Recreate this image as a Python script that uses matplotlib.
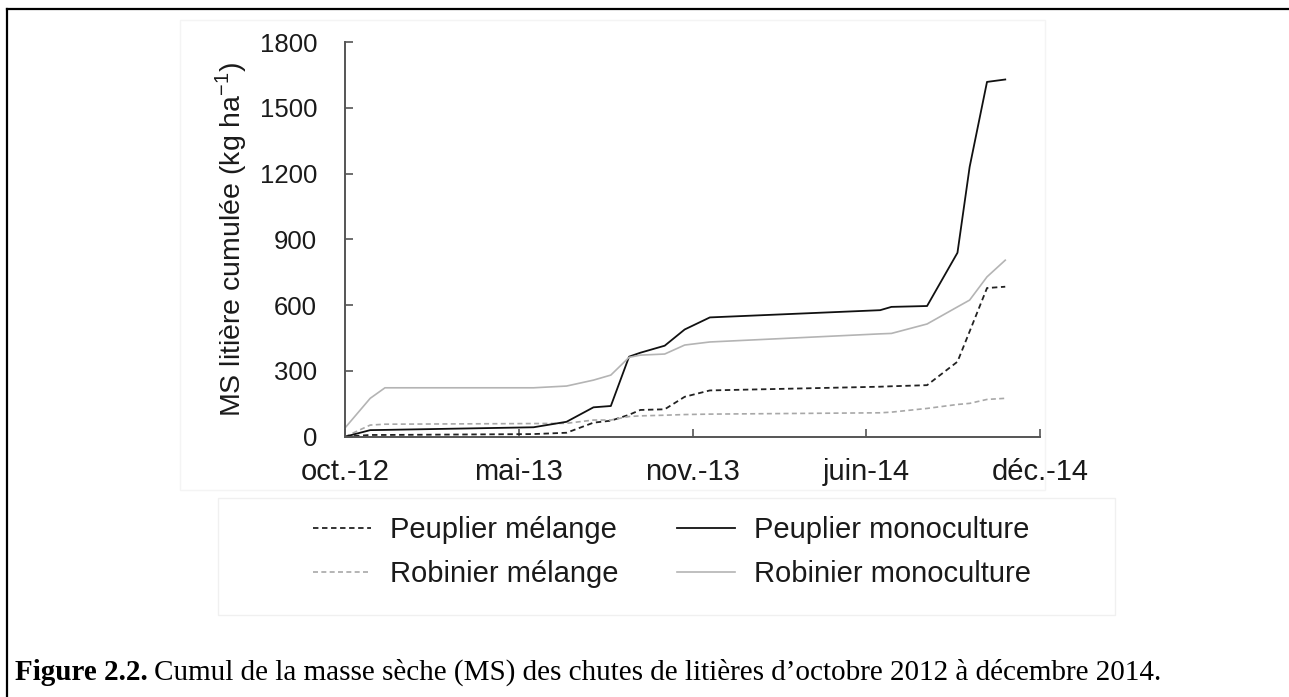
import matplotlib
matplotlib.use("Agg")
import matplotlib.pyplot as plt
from matplotlib.patches import Rectangle
from matplotlib.lines import Line2D

# --- data (days since mid-Oct 2012, cumulative litter dry mass, kg/ha) ---
days = [0, 29, 46, 217, 255, 286, 306, 327, 340, 368, 391, 420,
        616, 629, 670, 705, 719, 739, 760]
peuplier_melange = [0, 8, 8, 12, 18, 64, 73, 100, 122, 125, 182, 211,
                    228, 230, 235, 342, 480, 678, 684]
peuplier_mono = [0, 30, 31, 43, 68, 134, 140, 365, 383, 415, 489, 544,
                 577, 592, 596, 839, 1230, 1618, 1629]
robinier_melange = [0, 53, 57, 60, 61, 76, 76, 92, 95, 98, 101, 103,
                    109, 112, 129, 147, 152, 170, 175]
robinier_mono = [40, 175, 223, 223, 231, 258, 281, 362, 372, 377, 418, 432,
                 469, 471, 514, 592, 623, 729, 805]

tick_days = [0, 200, 400, 600, 800]
tick_labels = ['oct.-12', 'mai-13', 'nov.-13', 'juin-14', 'déc.-14']

plt.rcParams['font.family'] = ['Liberation Sans', 'DejaVu Sans']
plt.rcParams['mathtext.fontset'] = 'custom'
plt.rcParams['mathtext.rm'] = 'Liberation Sans'

W, H = 1289, 697
fig = plt.figure(figsize=(W / 100, H / 100), dpi=100)

# faint chart-area and legend boxes (Excel export)
fig.patches.append(Rectangle((180 / W, 1 - 490 / H), 865 / W, 470 / H,
                             transform=fig.transFigure, fill=False,
                             ec='#f4f4f4', lw=1))
fig.patches.append(Rectangle((218 / W, 1 - 615 / H), 897 / W, 117 / H,
                             transform=fig.transFigure, fill=False,
                             ec='#f0f0f0', lw=1))

ax = fig.add_axes([345 / W, 1 - 436.7 / H, 695 / W, 394.7 / H])

ax.plot(days, peuplier_melange, color='#222222', lw=1.3, ls=(0, (3, 2)),
        label='Peuplier mélange')
ax.plot(days, robinier_melange, color='#a8a8a8', lw=1.2, ls=(0, (3, 2)),
        label='Robinier mélange')
ax.plot(days, peuplier_mono, color='#111111', lw=1.3,
        label='Peuplier monoculture')
ax.plot(days, robinier_mono, color='#b4b4b4', lw=1.2,
        label='Robinier monoculture')

ax.set_xlim(0, 800)
ax.set_ylim(0, 1800)
ax.set_xticks(tick_days)
ax.set_xticklabels(tick_labels)
ax.set_yticks(range(0, 1801, 300))

for s in ['top', 'right']:
    ax.spines[s].set_visible(False)
for s in ['left', 'bottom']:
    ax.spines[s].set_color('#555555')
    ax.spines[s].set_linewidth(1.4)

ax.tick_params(axis='y', direction='in', length=6, width=1.2, color='#555555',
               labelsize=18.5, labelcolor='#1a1a1a', pad=20)
ax.tick_params(axis='x', direction='in', length=6, width=1.2, color='#555555',
               labelsize=21, labelcolor='#1a1a1a', pad=15)

fig.text(231 / W, 1 - 239 / H, r'MS litière cumulée (kg ha$^{\mathregular{-1}}$)',
         rotation=90, ha='center', va='center', fontsize=20.5, color='#1a1a1a')

leg = ax.legend(loc='center', bbox_to_anchor=(672 / W, 1 - 552 / H),
                bbox_transform=fig.transFigure, ncol=2, frameon=False,
                fontsize=21, handlelength=2.0, handletextpad=0.65,
                columnspacing=2.0, labelspacing=0.55, borderpad=0)
for t in leg.get_texts():
    t.set_color('#1a1a1a')

# page frame (left and top edges)
fig.add_artist(Line2D([7 / W, 7 / W], [0, 1 - 9 / H], transform=fig.transFigure,
                      color='black', lw=1.6))
fig.add_artist(Line2D([7 / W, 1], [1 - 9 / H, 1 - 9 / H], transform=fig.transFigure,
                      color='black', lw=1.6))

# caption: bold prefix + regular text
r = fig.canvas.get_renderer()
cap_y = 1 - 680 / H
t1 = fig.text(15 / W, cap_y, 'Figure 2.2.', family='Liberation Serif',
              weight='bold', fontsize=21, va='baseline')
bb = t1.get_window_extent(renderer=r)
fig.text((bb.x1 + 6) / W, cap_y,
         'Cumul de la masse sèche (MS) des chutes de litières d’octobre 2012 à décembre 2014.',
         family='Liberation Serif', fontsize=21, va='baseline')

fig.savefig('out.png', dpi=100)
